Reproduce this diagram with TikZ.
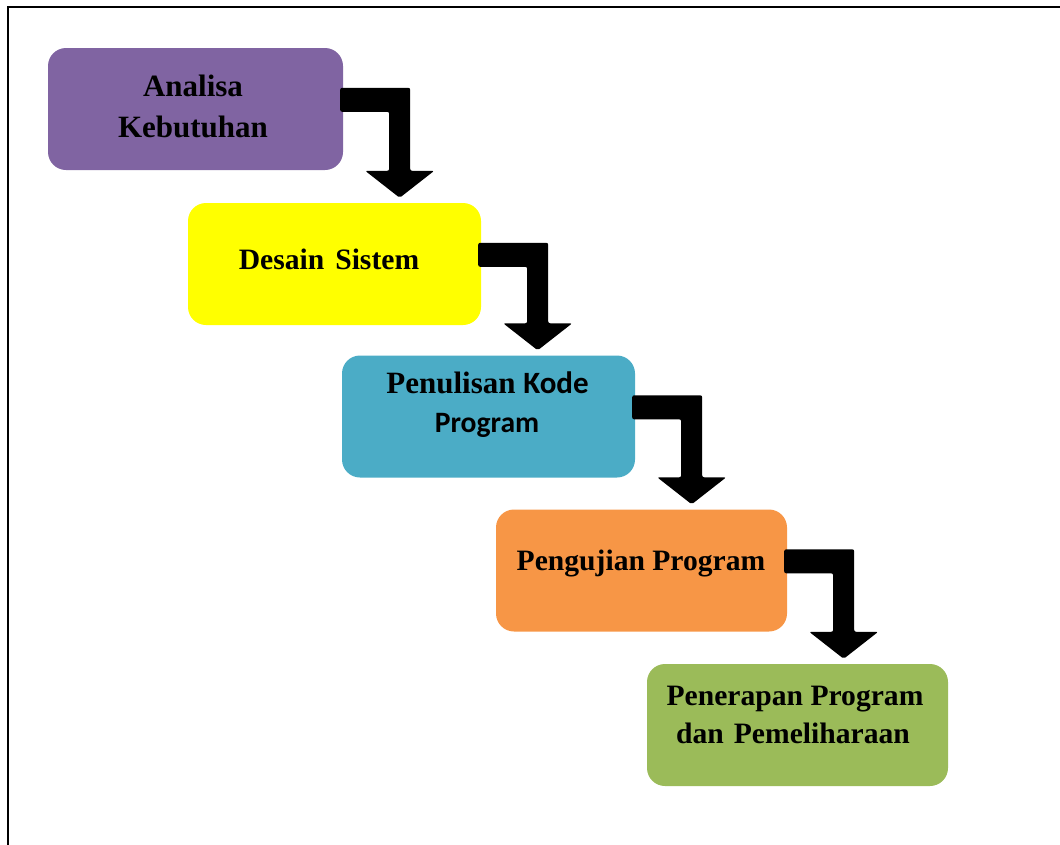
\documentclass[tikz,border=0pt]{standalone}
\usepackage{fontspec}
\setmainfont{Liberation Serif}
\newfontfamily\calibrisub{Carlito}
\usetikzlibrary{calc}
\definecolor{cpurple}{HTML}{8064A2}
\definecolor{cyellow}{HTML}{FFFF00}
\definecolor{cblue}{HTML}{4BACC6}
\definecolor{corange}{HTML}{F79646}
\definecolor{cgreen}{HTML}{9BBB59}
\tikzset{
  stagebox/.style={draw=none, rounded corners=18pt, minimum width=#1, minimum height=122pt, inner sep=0pt},
  stagetext/.style={anchor=base, inner sep=0pt, font=\fontsize{29.6}{34}\selectfont\bfseries},
  bigtext/.style={stagetext, font=\fontsize{31}{36}\selectfont\bfseries},
  bentarrow/.style={fill=black, rounded corners=2pt}
}
\newcommand\stepconnector[2]{%
  \fill[bentarrow] let \p1=(#1.north east), \p2=(#2.north) in
    (\x1-3pt,\y1-40pt) -- (\x1+67pt,\y1-40pt) -- (\x1+67pt,\y2+32pt)
    -- (\x1+91pt,\y2+32pt) -- (\x1+56.5pt,\y2+5pt) -- (\x1+22pt,\y2+32pt)
    -- (\x1+46pt,\y2+32pt) -- (\x1+46pt,\y1-64pt) -- (\x1-3pt,\y1-64pt) -- cycle;}
\begin{document}
\begin{tikzpicture}[x=1pt,y=-1pt]
\useasboundingbox (0,0) rectangle (1060,844);
\draw[line width=2pt] (8,870) -- (8,7) -- (1080,7);
% boxes
\node[stagebox=295pt, fill=cpurple] (b1) at (195.5,109) {};
\node[stagebox=293pt, fill=cyellow] (b2) at (334.5,264) {};
\node[stagebox=293pt, fill=cblue] (b3) at (488.5,416.5) {};
\node[stagebox=291pt, fill=corange] (b4) at (641.5,570.5) {};
\node[stagebox=301pt, fill=cgreen] (b5) at (797.5,725) {};
% texts
\node[bigtext] (t1a) at (193,96) {Analisa};
\node[bigtext] (t1b) at (193,137) {Kebutuhan};
\node[stagetext] (t2) at (329,269) {Desain\hspace{11pt}Sistem};
\node[bigtext] (t3a) at (487.5,393) {Penulisan {\calibrisub Kode}};
\node[stagetext] (t3b) at (487,432) {\calibrisub Program};
\node[stagetext] (t4) at (641,570) {Pengujian Program};
\node[stagetext] (t5a) at (795,705) {Penerapan Program};
\node[stagetext] (t5b) at (793,743) {dan\hspace{10pt}Pemeliharaan};
% arrows
\stepconnector{b1}{b2}
\stepconnector{b2}{b3}
\stepconnector{b3}{b4}
\stepconnector{b4}{b5}
\end{tikzpicture}
\end{document}
